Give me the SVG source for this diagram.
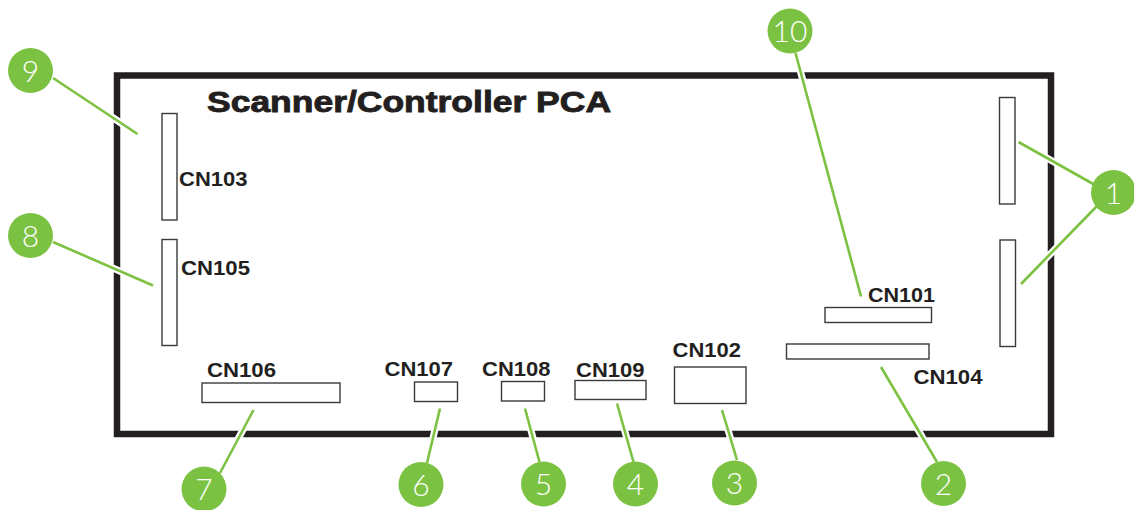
<svg xmlns="http://www.w3.org/2000/svg" width="1134" height="510" viewBox="0 0 1134 510">
<style>
.board{fill:none;stroke:#231f20;stroke-width:6.5}
.conn{fill:#fff;stroke:#3a3a3a;stroke-width:1.4}
.lbl{font-family:"Liberation Sans",Arial,sans-serif;font-weight:bold;font-size:20.5px;fill:#231f20}
.title{font-family:"Liberation Sans",Arial,sans-serif;font-weight:bold;font-size:30px;fill:#231f20;stroke:#231f20;stroke-width:0.9}
.halo{stroke:#fff;stroke-width:7;fill:none}
.lead{stroke:#7dc142;stroke-width:2.6;fill:none}
.dot{fill:#7cc242}
.num{font-family:Lato,"Open Sans","Liberation Sans",sans-serif;font-weight:300;font-size:30px;fill:#fff;text-anchor:middle}
</style>
<rect class="board" x="117" y="75.5" width="934" height="358.5"/>
<text class="title" x="207" y="111.5" textLength="404" lengthAdjust="spacingAndGlyphs">Scanner/Controller PCA</text>

<g id="cn103"><rect class="conn" x="162" y="113.5" width="15" height="106.5"/><text class="lbl" x="179" y="186" textLength="68.5" lengthAdjust="spacingAndGlyphs">CN103</text></g>
<g id="cn105"><rect class="conn" x="162" y="239.5" width="15" height="106"/><text class="lbl" x="181" y="275" textLength="69" lengthAdjust="spacingAndGlyphs">CN105</text></g>
<g id="cn106"><rect class="conn" x="202" y="383" width="138" height="19.5"/><text class="lbl" x="207" y="377" textLength="69" lengthAdjust="spacingAndGlyphs">CN106</text></g>
<g id="cn107"><rect class="conn" x="414.5" y="382" width="43" height="19.5"/><text class="lbl" x="384.5" y="376" textLength="68.5" lengthAdjust="spacingAndGlyphs">CN107</text></g>
<g id="cn108"><rect class="conn" x="501.5" y="381.5" width="43" height="19.5"/><text class="lbl" x="482" y="376" textLength="68.5" lengthAdjust="spacingAndGlyphs">CN108</text></g>
<g id="cn109"><rect class="conn" x="575" y="380.5" width="71" height="19"/><text class="lbl" x="576" y="377" textLength="68.5" lengthAdjust="spacingAndGlyphs">CN109</text></g>
<g id="cn102"><rect class="conn" x="674.5" y="367" width="71.5" height="36.5"/><text class="lbl" x="672.5" y="357" textLength="68.5" lengthAdjust="spacingAndGlyphs">CN102</text></g>
<g id="cn101"><rect class="conn" x="825" y="307.5" width="106.5" height="15"/><text class="lbl" x="868" y="301.5" textLength="67" lengthAdjust="spacingAndGlyphs">CN101</text></g>
<g id="cn104"><rect class="conn" x="786.5" y="344" width="142.5" height="15"/><text class="lbl" x="913.5" y="384" textLength="69" lengthAdjust="spacingAndGlyphs">CN104</text></g>
<g id="cn-right-upper"><rect class="conn" x="999.5" y="97.5" width="15.5" height="106.5"/></g>
<g id="cn-right-lower"><rect class="conn" x="1000" y="240" width="15.5" height="106.5"/></g>

<g id="connectors">
<g class="halo">
<line x1="53" y1="78" x2="137.5" y2="134"/>
<line x1="53" y1="242" x2="153" y2="285.5"/>
<line x1="253.5" y1="410" x2="220" y2="473"/>
<line x1="440" y1="408.5" x2="427" y2="463"/>
<line x1="525" y1="408.5" x2="539.5" y2="462"/>
<line x1="617" y1="403.5" x2="633.5" y2="462"/>
<line x1="722" y1="410" x2="737" y2="460"/>
<line x1="881" y1="367" x2="937" y2="462"/>
<line x1="795.5" y1="53" x2="861" y2="296.5"/>
<line x1="1018.5" y1="142" x2="1095" y2="185"/>
<line x1="1098" y1="205" x2="1021" y2="284"/>
</g>
<g class="lead">
<line x1="53" y1="78" x2="137.5" y2="134"/>
<line x1="53" y1="242" x2="153" y2="285.5"/>
<line x1="253.5" y1="410" x2="220" y2="473"/>
<line x1="440" y1="408.5" x2="427" y2="463"/>
<line x1="525" y1="408.5" x2="539.5" y2="462"/>
<line x1="617" y1="403.5" x2="633.5" y2="462"/>
<line x1="722" y1="410" x2="737" y2="460"/>
<line x1="881" y1="367" x2="937" y2="462"/>
<line x1="795.5" y1="53" x2="861" y2="296.5"/>
<line x1="1018.5" y1="142" x2="1095" y2="185"/>
<line x1="1098" y1="205" x2="1021" y2="284"/>
</g>
</g>

<g id="c1"><circle class="dot" cx="1113.5" cy="192.5" r="22.5"/><text class="num" x="1113.5" y="203.5">1</text></g>
<g id="c2"><circle class="dot" cx="943.5" cy="483.5" r="22.5"/><text class="num" x="943.5" y="494.5">2</text></g>
<g id="c3"><circle class="dot" cx="734.5" cy="483" r="22.5"/><text class="num" x="734.5" y="494">3</text></g>
<g id="c4"><circle class="dot" cx="635.5" cy="484" r="22.5"/><text class="num" x="635.5" y="495">4</text></g>
<g id="c5"><circle class="dot" cx="543.5" cy="484" r="22.5"/><text class="num" x="543.5" y="495">5</text></g>
<g id="c6"><circle class="dot" cx="421" cy="484.5" r="22.5"/><text class="num" x="421" y="495.5">6</text></g>
<g id="c7"><circle class="dot" cx="204" cy="489" r="22.5"/><text class="num" x="204" y="500">7</text></g>
<g id="c8"><circle class="dot" cx="30.5" cy="235.5" r="22.5"/><text class="num" x="30.5" y="246.5">8</text></g>
<g id="c9"><circle class="dot" cx="30.5" cy="70.5" r="22.5"/><text class="num" x="30.5" y="81.5">9</text></g>
<g id="c10"><circle class="dot" cx="790" cy="31" r="22.5"/><text class="num" x="790" y="42">10</text></g>
</svg>
